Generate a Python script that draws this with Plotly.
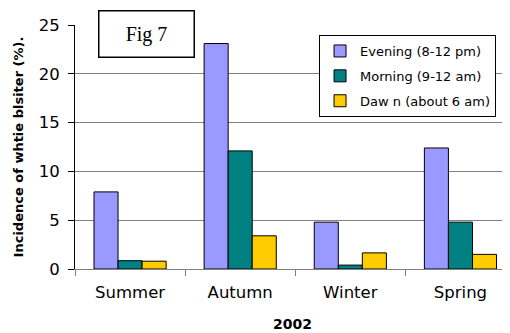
import plotly.graph_objects as go

seasons = ["Summer", "Autumn", "Winter", "Spring"]
evening = [7.9, 23.1, 4.8, 12.4]
morning = [0.85, 12.1, 0.4, 4.8]
dawn = [0.8, 3.4, 1.65, 1.5]
series_names = ["Evening (8-12 pm)", "Morning (9-12 am)", "Daw n (about 6 am)"]
colors = ["#9999FF", "#008080", "#FFCC00"]
y_ticks = [0, 5, 10, 15, 20, 25]

FONT = "DejaVu Sans"

fig = go.Figure()
for i, (name, vals, c) in enumerate(zip(series_names, [evening, morning, dawn], colors)):
    fig.add_trace(go.Bar(x=seasons, y=vals, name=name, legendgroup=f"g{i}",
                         marker=dict(color=c, line=dict(color="black", width=1))))

# page body has an 8px margin, so the figure is offset by (8, 8)
fig.update_layout(
    width=502, height=325,
    margin=dict(l=67, r=0, t=17, b=64),
    paper_bgcolor="white", plot_bgcolor="white",
    barmode="group", bargap=0.345, bargroupgap=0,
    font=dict(family=FONT, color="black"),
    showlegend=True,
    legend=dict(x=0.561, y=0.959, xanchor="left", yanchor="top",
                bgcolor="white", bordercolor="black", borderwidth=1,
                font=dict(size=13, family=FONT),
                itemwidth=30, tracegroupgap=5),
    xaxis=dict(range=[-0.5, 3.45], showgrid=False, showline=True,
               linecolor="#808080", linewidth=1,
               ticks="outside", tickson="boundaries", ticklen=6, tickcolor="#808080",
               tickfont=dict(size=16.5), automargin=False, ticklabelstandoff=8,
               title=dict(text="<b>2002</b>", font=dict(size=14), standoff=18)),
    yaxis=dict(range=[0, 25], tickvals=y_ticks, showgrid=True, gridcolor="#808080",
               gridwidth=1, showline=True, linecolor="black", linewidth=1,
               ticks="outside", ticklen=6, tickcolor="black",
               tickfont=dict(size=16.5), automargin=False, zeroline=False,
               ticklabelstandoff=5,
               title=dict(text="<b>Incidence of whtie blsiter (%).</b>", font=dict(size=13), standoff=12)),
    annotations=[dict(text="Fig 7", xref="paper", yref="paper", x=0.1644, y=0.963,
                      xanchor="center", yanchor="middle",
                      showarrow=False, font=dict(family="Liberation Serif", size=20),
                      bgcolor="white", bordercolor="black", borderwidth=1.5, borderpad=0,
                      width=94, height=45)],
)

fig.write_html("out.html")
